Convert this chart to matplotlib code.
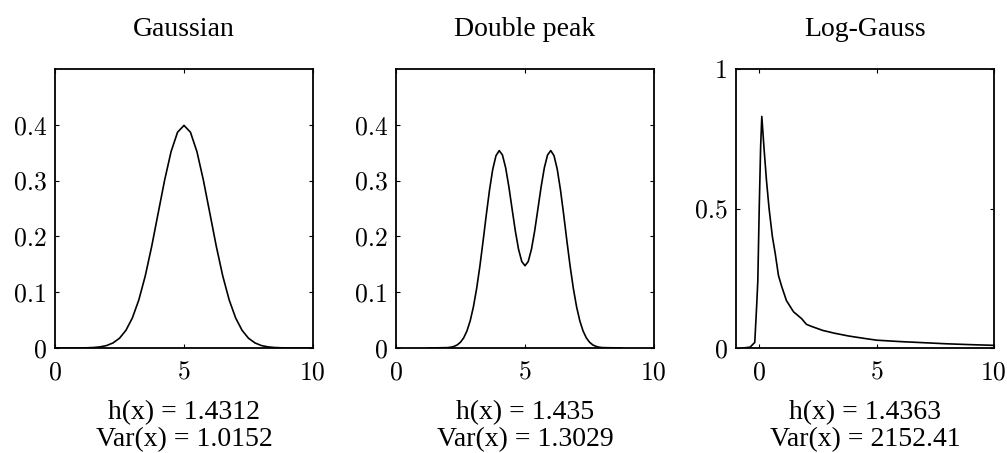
import matplotlib
matplotlib.use("Agg")
import matplotlib.pyplot as plt

plt.rcParams['font.family'] = ['Liberation Serif', 'DejaVu Serif']
plt.rcParams['axes.formatter.use_mathtext'] = True

# Gaussian
gauss_x = [0.0, 0.25, 0.5, 0.75, 1.0, 1.25, 1.5, 1.75, 2.0, 2.25, 2.5, 2.75, 3.0, 3.25, 3.5, 3.75,
           4.0, 4.25, 4.5, 4.75, 5.0, 5.25, 5.5, 5.75, 6.0, 6.25, 6.5, 6.75, 7.0, 7.25, 7.5, 7.75,
           8.0, 8.25, 8.5, 8.75, 9.0, 9.25, 9.5, 9.75, 10.0]
gauss_y = [0.0, 0.0, 0.0, 0.0, 0.0001, 0.0004, 0.0009, 0.002, 0.0044, 0.0091, 0.0175, 0.0317, 0.054,
           0.0863, 0.1295, 0.1826, 0.242, 0.3011, 0.3521, 0.3867, 0.3989, 0.3867, 0.3521, 0.3011,
           0.242, 0.1826, 0.1295, 0.0863, 0.054, 0.0317, 0.0175, 0.0091, 0.0044, 0.002, 0.0009,
           0.0004, 0.0001, 0.0, 0.0, 0.0, 0.0]

# Double peak
dbl_x = [1.25, 2.0, 2.125, 2.25, 2.375, 2.5, 2.625, 2.75, 2.875, 3.0, 3.125, 3.25, 3.375, 3.5, 3.625,
         3.75, 3.875, 4.0, 4.125, 4.25, 4.375, 4.5, 4.625, 4.75, 4.875, 5.0, 5.125, 5.25, 5.375,
         5.5, 5.625, 5.75, 5.875, 6.0, 6.125, 6.25, 6.375, 6.5, 6.625, 6.75, 6.875, 7.0, 7.125,
         7.25, 7.375, 7.5, 7.625, 7.75, 7.875, 8.0, 8.75]
dbl_y = [0.0, 0.0007, 0.0014, 0.0029, 0.0056, 0.0104, 0.0183, 0.0306, 0.0486, 0.0737, 0.1064, 0.1463,
         0.1915, 0.2387, 0.2833, 0.3203, 0.3446, 0.3538, 0.346, 0.3231, 0.2889, 0.2491, 0.2098,
         0.1769, 0.155, 0.1474, 0.155, 0.1769, 0.2098, 0.2491, 0.2889, 0.3231, 0.346, 0.3538,
         0.3446, 0.3203, 0.2833, 0.2387, 0.1915, 0.1463, 0.1064, 0.0737, 0.0486, 0.0306, 0.0183,
         0.0104, 0.0056, 0.0029, 0.0014, 0.0007, 0.0]

# Log-Gauss
lg_x = [-0.7, -0.4, -0.2, -0.12, -0.07, -0.01, 0.05, 0.1, 0.2, 0.3, 0.41, 0.55, 0.67, 0.81, 0.95,
        1.15, 1.45, 1.8, 2.0, 2.2, 2.7, 3.2, 3.8, 4.5, 5.0, 6.0, 7.0, 8.0, 9.0, 10.0]
lg_y = [0.0, 0.003, 0.02, 0.15, 0.24, 0.5, 0.72, 0.83, 0.71, 0.6, 0.5, 0.4, 0.34, 0.26, 0.22,
        0.17, 0.13, 0.105, 0.085, 0.078, 0.063, 0.053, 0.043, 0.034, 0.028, 0.023, 0.019, 0.015,
        0.012, 0.0095]

titles = ['Gaussian', 'Double peak', 'Log-Gauss']
entropy = ['1.4312', '1.435', '1.4363']
variance = ['1.0152', '1.3029', '2152.41']

panels = [
    (gauss_x, gauss_y, (0, 10), (0, 0.5), [0, 5, 10], [0, 0.1, 0.2, 0.3, 0.4], ['0', '0.1', '0.2', '0.3', '0.4']),
    (dbl_x, dbl_y, (0, 10), (0, 0.5), [0, 5, 10], [0, 0.1, 0.2, 0.3, 0.4], ['0', '0.1', '0.2', '0.3', '0.4']),
    (lg_x, lg_y, (-1, 10), (0, 1), [0, 5, 10], [0, 0.5, 1], ['0', '0.5', '1']),
]

W, H = 1007, 453
fig = plt.figure(figsize=(W / 100, H / 100), dpi=100)
lefts = [55, 396, 736]

for i, (x, y, xl, yl, xt, yt, ytl) in enumerate(panels):
    ax = fig.add_axes([lefts[i] / W, (H - 348) / H, 258 / W, 279 / H])
    ax.plot(x, y, color='black', lw=1.2)
    ax.set_xlim(*xl)
    ax.set_ylim(*yl)
    ax.set_xticks(xt)
    ax.set_xticklabels([str(t) for t in xt], fontfamily='cmr10', fontsize=18.5)
    ax.set_yticks(yt)
    ax.set_yticklabels(ytl, fontfamily='cmr10', fontsize=18.5)
    ax.tick_params(direction='in', length=3, width=0.8, top=True, right=True)
    ax.tick_params(axis='x', pad=9)
    ax.tick_params(axis='y', pad=6)
    for s in ax.spines.values():
        s.set_linewidth(1.3)
    cx = (lefts[i] + 129) / W
    fig.text(cx, 1 - 30 / H, titles[i], ha='center', va='center', fontsize=20)
    fig.text(cx, 1 - 413 / H, 'h(x) = ' + entropy[i], ha='center', va='center', fontsize=20)
    fig.text(cx, 1 - 440 / H, 'Var(x) = ' + variance[i], ha='center', va='center', fontsize=20)

fig.savefig('out.png', dpi=100)
